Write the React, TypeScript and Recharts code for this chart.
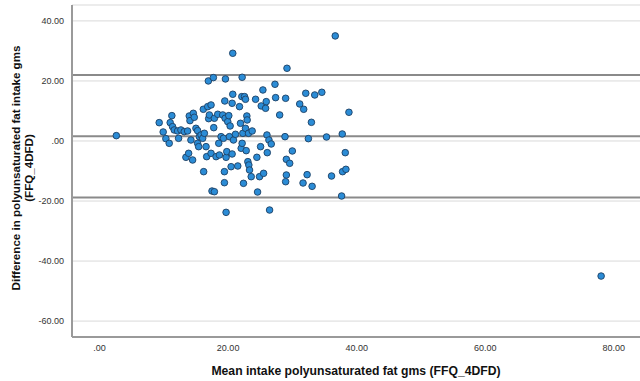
import React from "react";
import {
  ScatterChart,
  Scatter,
  XAxis,
  YAxis,
  CartesianGrid,
  ReferenceLine,
} from "recharts";

// Mean of the two methods (x) and their difference (y) per participant
const meanIntake = [
  2.6, 9.27, 9.89, 10.31, 10.83, 10.98, 11.24, 11.35, 11.61, 12.13,
  12.29, 12.65, 13.17, 13.43, 13.69, 13.85, 13.95, 14.06, 14.21, 14.47,
  14.58, 14.73, 14.99, 15.25, 15.25, 15.41, 15.52, 15.78, 16.04, 16.14,
  16.19, 16.3, 16.56, 16.66, 16.82, 16.92, 16.97, 17.08, 17.34, 17.34,
  17.49, 17.7, 17.76, 17.86, 17.86, 18.12, 18.38, 18.54, 18.64, 18.9,
  19.16, 19.27, 19.42, 19.42, 19.48, 19.53, 19.58, 19.68, 19.68, 19.79,
  19.94, 20.1, 20.2, 20.31, 20.46, 20.62, 20.62, 20.72, 20.72, 20.83,
  21.14, 21.5, 21.77, 21.92, 22.03, 22.13, 22.18, 22.18, 22.29, 22.39,
  22.55, 22.7, 22.7, 22.81, 22.91, 22.96, 23.07, 23.17, 23.22, 23.33,
  23.59, 23.74, 24.27, 24.47, 24.58, 24.89, 25.05, 25.15, 25.41, 25.52,
  25.83, 25.93, 26.04, 26.09, 26.35, 26.45, 26.71, 27.29, 27.39, 28.02,
  28.85, 28.95, 28.95, 29.06, 29.06, 29.16, 29.58, 29.99, 31.14, 31.66,
  31.76, 32.08, 32.29, 32.49, 32.96, 33.07, 33.48, 34.58, 35.31, 36.09,
  36.67, 37.66, 37.76, 37.81, 38.23, 38.33, 38.8,
  78.05,
];

const difference = [
  1.78, 6.11, 3.0, 0.78, -0.78, 6.11, 8.44, 4.78, 3.67, 3.33,
  0.89, 3.67, 3.11, -5.44, 3.33, -4.11, 8.33, 6.78, 0.33, -6.33,
  9.22, 7.89, 4.22, 3.44, -0.78, -1.89, 1.44, 2.0, 0.89, 10.56,
  -10.22, 2.56, -1.89, -5.22, 11.44, 20.0, 7.44, 8.67, 12.0, -4.11,
  -16.67, 21.11, 4.44, 7.56, -16.89, -5.22, 8.89, -0.78, -4.67, 1.44,
  8.67, 0.89, -13.89, -10.22, 13.33, 7.56, 20.67, -23.78, -5.44, -3.56,
  6.44, 8.44, 1.44, 5.0, -8.56, -4.33, 12.56, 29.22, 15.56, 0.33,
  2.22, -8.33, 11.44, 5.89, -2.44, 14.78, -0.78, 21.22, 2.56, -14.11,
  14.78, 13.89, 4.22, -3.22, 8.33, 7.0, -6.89, 2.56, -8.0, -9.67,
  -11.89, 3.33, 13.89, -5.44, -17.0, -11.89, -1.89, 11.67, 17.0, -10.78,
  10.89, 13.11, 2.0, -3.89, 0.33, -23.0, -1.0, 18.89, 14.44, 8.67,
  1.44, 14.22, -13.56, -6.11, -11.33, 24.22, -7.44, -3.33, 12.33, -14.0,
  10.56, 15.89, -11.22, 0.78, 6.22, -15.11, 15.33, 16.22, 1.33, -11.67,
  35.0, -18.33, 2.33, -10.22, -3.89, -9.44, 9.56,
  -45.0,
];

// Bias line and 95% limits of agreement
const meanDifference = 1.55;
const upperLimit = 21.95;
const lowerLimit = -18.85;

const xTicks = [0, 20, 40, 60, 80];
const yTicks = [-60, -40, -20, 0, 20, 40];

const xTitle = "Mean intake polyunsaturated fat gms (FFQ_4DFD)";
const yTitleLines = ["Difference in polyunsaturated fat intake gms", "(FFQ_4DFD)"];

const points = meanIntake.map((x, i) => ({ x, y: difference[i] }));

const fmt = (v: number) => (v === 0 ? ".00" : v.toFixed(2));

const FONT = "'Liberation Sans', Arial, sans-serif";

const Dot = (props: any) => (
  <circle
    cx={props.cx}
    cy={props.cy}
    r={3.3}
    fill="#2b8cd6"
    stroke="#1d3f63"
    strokeWidth={0.9}
  />
);

const YTitle = (props: any) => {
  const vb = props.viewBox || {};
  const cy = vb.y + vb.height / 2 - 3;
  const xs = [15, 28];
  return (
    <g>
      {yTitleLines.map((line, i) => (
        <text
          key={i}
          x={xs[i]}
          y={cy}
          transform={`rotate(-90, ${xs[i]}, ${cy})`}
          textAnchor="middle"
          dominantBaseline="central"
          fontFamily={FONT}
          fontWeight="bold"
          fontSize={11.6}
          fill="#111"
        >
          {line}
        </text>
      ))}
    </g>
  );
};

export default function App() {
  return (
    <div style={{ position: "absolute", left: 0, top: 0, background: "#fff" }}>
      <ScatterChart
        width={640}
        height={381}
        margin={{ top: 5, right: 0, bottom: 0, left: 0 }}
      >
        <CartesianGrid vertical={false} stroke="#d9d9d9" strokeWidth={1} />
        <XAxis
          type="number"
          dataKey="x"
          domain={[-4.3, 84.1]}
          ticks={xTicks}
          tickFormatter={fmt}
          tickLine={false}
          axisLine={{ stroke: "#9a9a9a", strokeWidth: 2 }}
          height={44}
          tick={{ fontSize: 9, fill: "#333", fontFamily: FONT }}
          label={{
            value: xTitle,
            position: "insideBottom",
            offset: 6,
            style: { fontSize: 12.2, fontWeight: "bold", fill: "#111", fontFamily: FONT },
          }}
        />
        <YAxis
          type="number"
          dataKey="y"
          domain={[-65.3, 45.3]}
          ticks={yTicks}
          tickFormatter={fmt}
          tickLine={false}
          axisLine={{ stroke: "#9a9a9a", strokeWidth: 2 }}
          width={72}
          tick={{ fontSize: 9, fill: "#333", fontFamily: FONT }}
          label={{ content: (p: any) => <YTitle {...p} /> }}
        />
        <ReferenceLine y={upperLimit} stroke="#8a8a8a" strokeWidth={2} />
        <ReferenceLine y={meanDifference} stroke="#8a8a8a" strokeWidth={2} />
        <ReferenceLine y={lowerLimit} stroke="#8a8a8a" strokeWidth={2} />
        <Scatter data={points} shape={<Dot />} isAnimationActive={false} />
      </ScatterChart>
    </div>
  );
}
